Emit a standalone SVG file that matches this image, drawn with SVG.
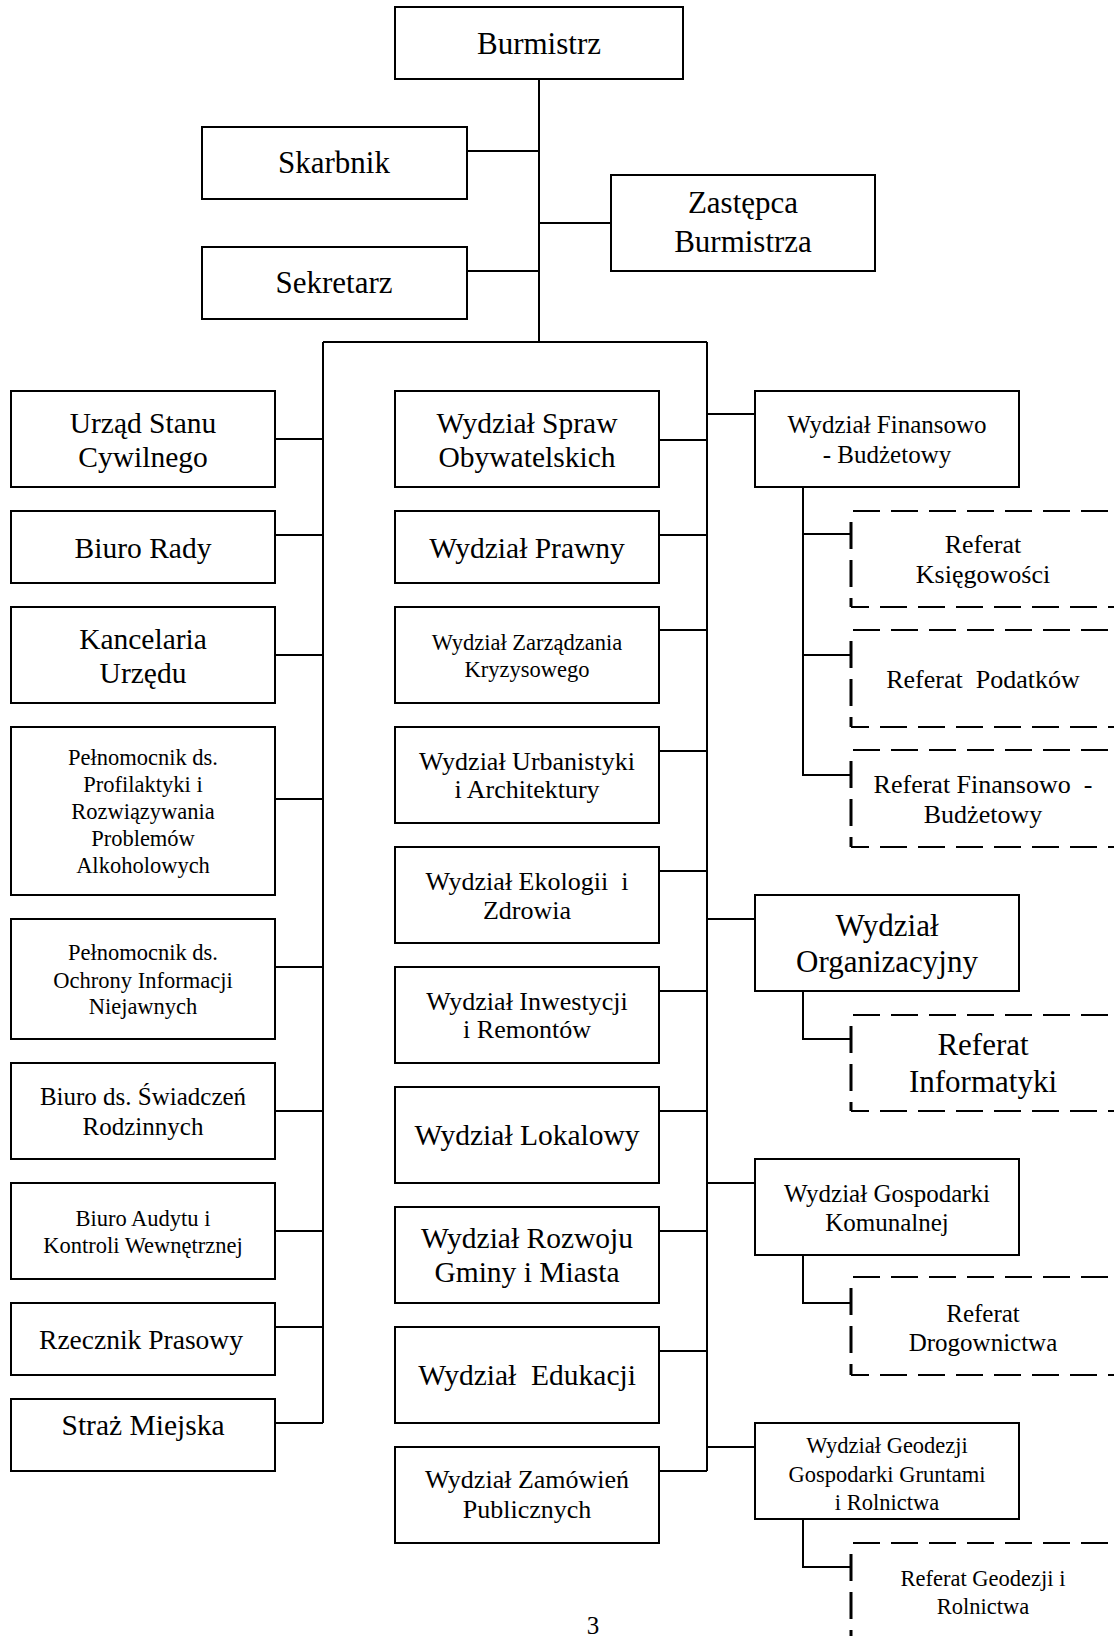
<svg xmlns="http://www.w3.org/2000/svg" width="1114" height="1636" viewBox="0 0 1114 1636">
<style>
.box{fill:#fff;stroke:#000;stroke-width:2}
.ln{fill:none;stroke:#000;stroke-width:2}
.dh{fill:none;stroke:#000;stroke-width:2;stroke-dasharray:27 11}
.dv{fill:none;stroke:#000;stroke-width:3;stroke-dasharray:27 11}
.db{fill:none;stroke:#000;stroke-width:2;stroke-dasharray:27 11;stroke-dashoffset:9}
text{font-family:"Liberation Serif","Times New Roman",serif;text-anchor:middle;fill:#000}
.f31{font-size:31px}.f29{font-size:29.5px}.f27{font-size:27.5px}.f26{font-size:26px}.f25{font-size:25px}.f22{font-size:22.5px}
</style>
<rect width="1114" height="1636" fill="#fff"/>
<g id="connectors">
<path class="ln" d="M539 79V342M467 151H539M467 271H539M539 223H611M323 342H707M323 342V1423M707 342V1471"/>
<path class="ln" d="M275 439H323M275 535H323M275 655H323M275 799H323M275 967H323M275 1111H323M275 1231H323M275 1327H323M275 1423H323"/>
<path class="ln" d="M659 440H707M659 535H707M659 630H707M659 751H707M659 871H707M659 991H707M659 1111H707M659 1231H707M659 1351H707M659 1471H707"/>
<path class="ln" d="M707 414H755M707 919H755M707 1183H755M707 1447H755"/>
<path class="ln" d="M803 487V775H851M803 534H851M803 655H851M803 991V1039H851M803 1255V1303H851M803 1519V1567H851"/>
</g>
<g id="burmistrz"><rect class="box" x="395" y="7" width="288" height="72"/><text class="f31" x="539" y="54">Burmistrz</text></g>
<g id="skarbnik"><rect class="box" x="202" y="127" width="265" height="72"/><text class="f31" x="334" y="173">Skarbnik</text></g>
<g id="zastepca"><rect class="box" x="611" y="175" width="264" height="96"/><text class="f31" x="743" y="213">Zastępca</text><text class="f31" x="743" y="252">Burmistrza</text></g>
<g id="sekretarz"><rect class="box" x="202" y="247" width="265" height="72"/><text class="f31" x="334" y="293">Sekretarz</text></g>

<g id="usc"><rect class="box" x="11" y="391" width="264" height="96"/><text class="f29" x="143" y="433">Urząd Stanu</text><text class="f29" x="143" y="467">Cywilnego</text></g>
<g id="biuro-rady"><rect class="box" x="11" y="511" width="264" height="72"/><text class="f29" x="143" y="558">Biuro Rady</text></g>
<g id="kancelaria"><rect class="box" x="11" y="607" width="264" height="96"/><text class="f29" x="143" y="649">Kancelaria</text><text class="f29" x="143" y="683">Urzędu</text></g>
<g id="pelnomocnik-alk"><rect class="box" x="11" y="727" width="264" height="168"/><text class="f22" x="143" y="765">Pełnomocnik ds.</text><text class="f22" x="143" y="792">Profilaktyki i</text><text class="f22" x="143" y="819">Rozwiązywania</text><text class="f22" x="143" y="846">Problemów</text><text class="f22" x="143" y="873">Alkoholowych</text></g>
<g id="pelnomocnik-ochr"><rect class="box" x="11" y="919" width="264" height="120"/><text class="f22" x="143" y="960">Pełnomocnik ds.</text><text class="f22" x="143" y="988">Ochrony Informacji</text><text class="f22" x="143" y="1014">Niejawnych</text></g>
<g id="swiadczenia"><rect class="box" x="11" y="1063" width="264" height="96"/><text class="f25" x="143" y="1105">Biuro ds. Świadczeń</text><text class="f25" x="143" y="1135">Rodzinnych</text></g>
<g id="audyt"><rect class="box" x="11" y="1183" width="264" height="96"/><text class="f22" x="143" y="1226">Biuro Audytu i</text><text class="f22" x="143" y="1253">Kontroli Wewnętrznej</text></g>
<g id="rzecznik"><rect class="box" x="11" y="1303" width="264" height="72"/><text class="f27" x="141" y="1349">Rzecznik Prasowy</text></g>
<g id="straz"><rect class="box" x="11" y="1399" width="264" height="72"/><text class="f29" x="143" y="1435">Straż Miejska</text></g>

<g id="spraw-obyw"><rect class="box" x="395" y="391" width="264" height="96"/><text class="f29" x="527" y="433">Wydział Spraw</text><text class="f29" x="527" y="467">Obywatelskich</text></g>
<g id="prawny"><rect class="box" x="395" y="511" width="264" height="72"/><text class="f29" x="527" y="558">Wydział Prawny</text></g>
<g id="kryzys"><rect class="box" x="395" y="607" width="264" height="96"/><text class="f22" x="527" y="650">Wydział Zarządzania</text><text class="f22" x="527" y="677">Kryzysowego</text></g>
<g id="urbanistyka"><rect class="box" x="395" y="727" width="264" height="96"/><text class="f26" x="527" y="770">Wydział Urbanistyki</text><text class="f26" x="527" y="798">i Architektury</text></g>
<g id="ekologia"><rect class="box" x="395" y="847" width="264" height="96"/><text class="f26" x="527" y="890">Wydział Ekologii&#160; i</text><text class="f26" x="527" y="919">Zdrowia</text></g>
<g id="inwestycje"><rect class="box" x="395" y="967" width="264" height="96"/><text class="f26" x="527" y="1010">Wydział Inwestycji</text><text class="f26" x="527" y="1038">i Remontów</text></g>
<g id="lokalowy"><rect class="box" x="395" y="1087" width="264" height="96"/><text class="f29" x="527" y="1145">Wydział Lokalowy</text></g>
<g id="rozwoj"><rect class="box" x="395" y="1207" width="264" height="96"/><text class="f29" x="527" y="1248">Wydział Rozwoju</text><text class="f29" x="527" y="1282">Gminy i Miasta</text></g>
<g id="edukacja"><rect class="box" x="395" y="1327" width="264" height="96"/><text class="f29" x="527" y="1385">Wydział&#160; Edukacji</text></g>
<g id="zamowienia"><rect class="box" x="395" y="1447" width="264" height="96"/><text class="f26" x="527" y="1488">Wydział Zamówień</text><text class="f26" x="527" y="1518">Publicznych</text></g>

<g id="finanse"><rect class="box" x="755" y="391" width="264" height="96"/><text class="f25" x="887" y="433">Wydział Finansowo</text><text class="f25" x="887" y="463">- Budżetowy</text></g>
<g id="organizacyjny"><rect class="box" x="755" y="895" width="264" height="96"/><text class="f31" x="887" y="936">Wydział</text><text class="f31" x="887" y="972">Organizacyjny</text></g>
<g id="gospodarka"><rect class="box" x="755" y="1159" width="264" height="96"/><text class="f25" x="887" y="1202">Wydział Gospodarki</text><text class="f25" x="887" y="1231">Komunalnej</text></g>
<g id="geodezja"><rect class="box" x="755" y="1423" width="264" height="96"/><text class="f22" x="887" y="1453">Wydział Geodezji</text><text class="f22" x="887" y="1482">Gospodarki Gruntami</text><text class="f22" x="887" y="1510">i Rolnictwa</text></g>

<g id="ref-ksiegowosci"><path class="dh" d="M853 511H1130"/><path class="dv" d="M851 522V607"/><path class="db" d="M851 607H1130"/><text class="f26" x="983" y="553">Referat</text><text class="f26" x="983" y="583">Księgowości</text></g>
<g id="ref-podatkow"><path class="dh" d="M853 630H1130"/><path class="dv" d="M851 641V727"/><path class="db" d="M851 727H1130"/><text class="f26" x="983" y="688">Referat&#160; Podatków</text></g>
<g id="ref-finansowo"><path class="dh" d="M853 750H1130"/><path class="dv" d="M851 761V847"/><path class="db" d="M851 847H1130"/><text class="f26" x="983" y="793">Referat Finansowo&#160; -</text><text class="f26" x="983" y="823">Budżetowy</text></g>
<g id="ref-informatyki"><path class="dh" d="M853 1015H1130"/><path class="dv" d="M851 1026V1111"/><path class="db" d="M851 1111H1130"/><text class="f31" x="983" y="1055">Referat</text><text class="f31" x="983" y="1092">Informatyki</text></g>
<g id="ref-drogownictwa"><path class="dh" d="M853 1277H1130"/><path class="dv" d="M851 1288V1375"/><path class="db" d="M851 1375H1130"/><text class="f25" x="983" y="1322">Referat</text><text class="f25" x="983" y="1351">Drogownictwa</text></g>
<g id="ref-geodezji"><path class="dh" d="M853 1543H1130"/><path class="dv" d="M851 1554V1660"/><text class="f22" x="983" y="1586">Referat Geodezji i</text><text class="f22" x="983" y="1614">Rolnictwa</text></g>

<text class="f25" x="593" y="1634">3</text>
</svg>
